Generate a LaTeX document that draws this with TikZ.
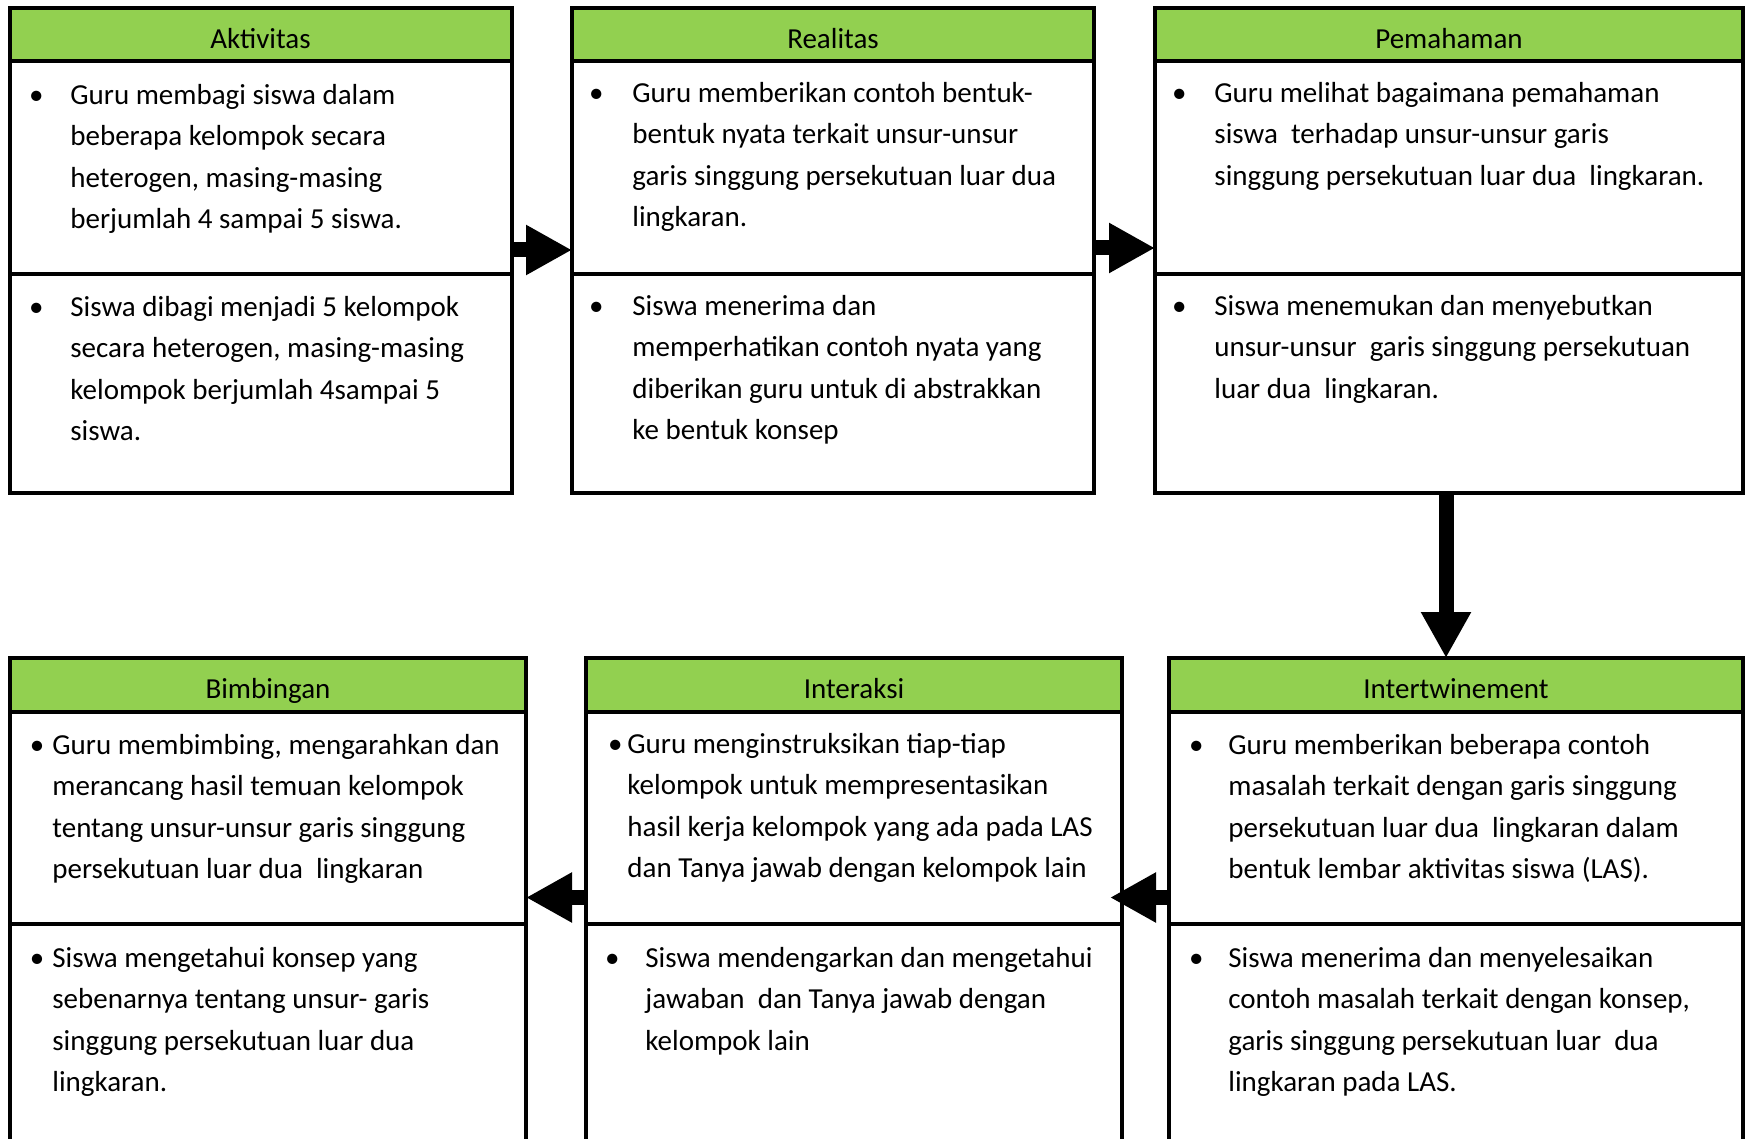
\documentclass[tikz,border=0pt]{standalone}
\usepackage{fontspec}
\setmainfont{Carlito}
\usetikzlibrary{arrows.meta, positioning}
\definecolor{hijau}{HTML}{92D050}
\newcommand{\isifont}{\fontsize{14.5}{20.75}\selectfont}
\newcommand{\butir}[1]{\llap{\makebox[0pt]{\textbullet}\hspace{#1}}}

\begin{document}
\begin{tikzpicture}[x=0.5pt, y=-0.5pt,
    judul/.style={rectangle, draw=black, line width=2pt, fill=hijau, outer sep=0pt, inner sep=0pt,
                  minimum width=#1, minimum height=26.75pt, text height=13.5pt, text depth=0pt, font=\isifont},
    kotak/.style={rectangle, draw=black, line width=2pt, outer sep=0pt, inner sep=0pt, minimum width=#1},
    teks/.style={anchor=base west, align=left, inner sep=0pt, yshift=-1.2pt, font=\isifont},
    panah/.style={line width=7.5pt, -{Triangle[length=23pt, width=23.5pt]}}
]
\useasboundingbox (0,0) rectangle (1750,1139);

% baris atas
\node[judul=251pt, anchor=north west] (aktH) at (9.5,8) {Aktivitas};
\node[kotak=251pt, minimum height=106.25pt, below=0pt of aktH] (aktA) {};
\node[kotak=251pt, minimum height=109.25pt, below=0pt of aktA] (aktB) {};

\node[judul=261pt, anchor=north west] (realH) at (572,8) {Realitas};
\node[kotak=261pt, minimum height=106.25pt, below=0pt of realH] (realA) {};
\node[kotak=261pt, minimum height=109.25pt, below=0pt of realA] (realB) {};

\node[judul=294pt, anchor=north west] (pemH) at (1155,8) {Pemahaman};
\node[kotak=294pt, minimum height=106.25pt, below=0pt of pemH] (pemA) {};
\node[kotak=294pt, minimum height=109.25pt, below=0pt of pemA] (pemB) {};

% baris bawah
\node[judul=258pt, anchor=north west] (bimH) at (10,658) {Bimbingan};
\node[kotak=258pt, minimum height=106pt, below=0pt of bimH] (bimA) {};
\node[kotak=258pt, minimum height=118pt, below=0pt of bimA] (bimB) {};

\node[judul=268pt, anchor=north west] (intH) at (586,658) {Interaksi};
\node[kotak=268pt, minimum height=106pt, below=0pt of intH] (intA) {};
\node[kotak=268pt, minimum height=118pt, below=0pt of intA] (intB) {};

\node[judul=287pt, anchor=north west] (intwH) at (1169,658) {Intertwinement};
\node[kotak=287pt, minimum height=106pt, below=0pt of intwH] (intwA) {};
\node[kotak=287pt, minimum height=118pt, below=0pt of intwA] (intwB) {};

% isi (base = baris terakhir)
\node[teks] (aktAt) at (70,226.2) {\butir{17pt}Guru membagi siswa dalam\\beberapa kelompok secara\\heterogen, masing-masing\\berjumlah 4 sampai 5 siswa.};
\node[teks] (aktBt) at (70,438.5) {\butir{17pt}Siswa dibagi menjadi 5 kelompok\\secara heterogen, masing-masing\\kelompok berjumlah 4sampai 5\\siswa.};
\node[teks] (realAt) at (632,224.5) {\butir{18pt}Guru memberikan contoh bentuk-\\bentuk nyata terkait unsur-unsur\\garis singgung persekutuan luar dua\\lingkaran.};
\node[teks] (realBt) at (632,437.5) {\butir{18pt}Siswa menerima dan\\memperhatikan contoh nyata yang\\diberikan guru untuk di abstrakkan\\ke bentuk konsep};
\node[teks] (pemAt) at (1214,183) {\butir{17.5pt}Guru melihat bagaimana pemahaman\\siswa\ \ terhadap unsur-unsur garis\\singgung persekutuan luar dua\ \ lingkaran.};
\node[teks] (pemBt) at (1214,396) {\butir{17.5pt}Siswa menemukan dan menyebutkan\\unsur-unsur\ \ garis singgung persekutuan\\luar dua\ \ lingkaran.};

\node[teks] (bimAt) at (52,876.5) {\butir{7.6pt}Guru membimbing, mengarahkan dan\\merancang hasil temuan kelompok\\tentang unsur-unsur garis singgung\\persekutuan luar dua\ \ lingkaran};
\node[teks] (bimBt) at (52,1089.5) {\butir{7.6pt}Siswa mengetahui konsep yang\\sebenarnya tentang unsur- garis\\singgung persekutuan luar dua\\lingkaran.};
\node[teks] (intAt) at (627,875.5) {\butir{6pt}Guru menginstruksikan tiap-tiap\\kelompok untuk mempresentasikan\\hasil kerja kelompok yang ada pada LAS\\dan Tanya jawab dengan kelompok lain};
\node[teks] (intBt) at (645,1048) {\butir{16.5pt}Siswa mendengarkan dan mengetahui\\jawaban\ \ dan Tanya jawab dengan\\kelompok lain};
\node[teks] (intwAt) at (1228,876.2) {\butir{16pt}Guru memberikan beberapa contoh\\masalah terkait dengan garis singgung\\persekutuan luar dua\ \ lingkaran dalam\\bentuk lembar aktivitas siswa (LAS).};
\node[teks] (intwBt) at (1228,1089.5) {\butir{16pt}Siswa menerima dan menyelesaikan\\contoh masalah terkait dengan konsep,\\garis singgung persekutuan luar\ \ dua\\lingkaran pada LAS.};

% panah
\draw[panah] ([yshift=12pt]aktA.south east) -- ([yshift=12pt]realA.south west);
\draw[panah] ([yshift=13pt]realA.south east) -- ([yshift=13pt]pemA.south west);
\draw[panah] ([xshift=-1.5pt]pemB.south) -- ([xshift=-1.5pt]pemB.south |- intwH.north);
\draw[panah] ([yshift=13pt]intwA.south west) -- ([xshift=-6pt,yshift=13pt]intA.south east);
\draw[panah] ([yshift=13pt]intA.south west) -- ([yshift=13pt]bimA.south east);
\end{tikzpicture}
\end{document}
